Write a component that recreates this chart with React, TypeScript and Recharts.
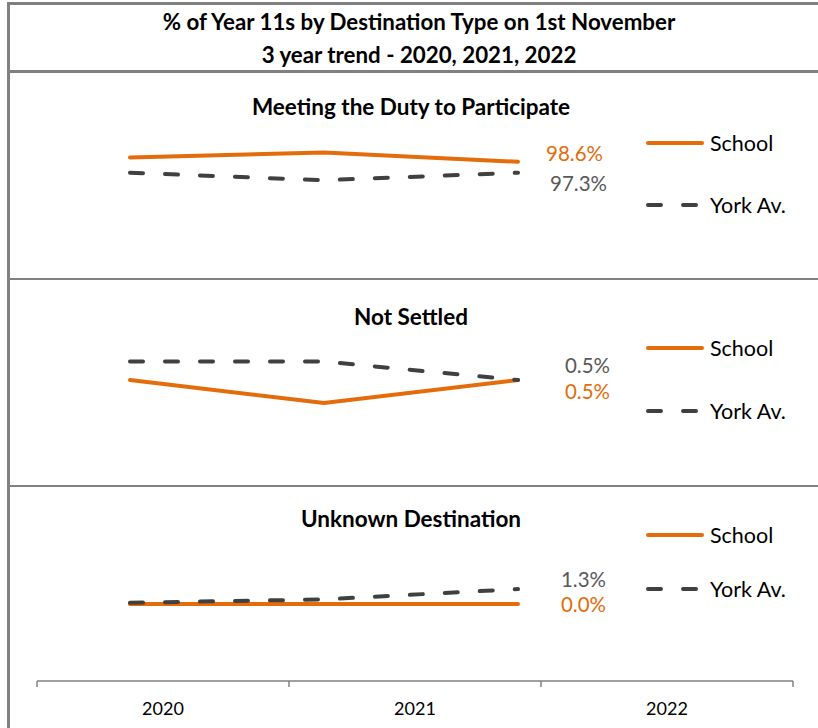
import React from "react";
import { LineChart, Line, XAxis, YAxis, Legend } from "recharts";

const YEARS = ["2020", "2021", "2022"];
const SERIES = ["School", "York Av."];

// Meeting the Duty to Participate (%)
const DUTY_SCHOOL = [99.1, 99.7, 98.6];
const DUTY_YORK = [97.3, 96.4, 97.3];
// Not Settled (%)
const NOT_SETTLED_SCHOOL = [0.5, 0.0, 0.5];
const NOT_SETTLED_YORK = [0.9, 0.9, 0.5];
// Unknown Destination (%)
const UNKNOWN_SCHOOL = [0.0, 0.0, 0.0];
const UNKNOWN_YORK = [0.1, 0.4, 1.3];

const MAIN_TITLE = [
  "% of Year 11s by Destination Type on 1st November",
  "3 year trend - 2020, 2021, 2022",
];
const PANEL_TITLES = [
  "Meeting the Duty to Participate",
  "Not Settled",
  "Unknown Destination",
];

const ORANGE = "#E46C0A";
const DARK = "#404040";
const LABEL_GREY = "#595959";
const BORDER = "#808080";
const FONT = "Lato, 'Open Sans', sans-serif";
const DASH = "13 22";

interface PanelProps {
  title: string;
  school: number[];
  york: number[];
  domain: [number, number];
  top: number;
  height: number;
  marginTop: number;
  marginBottom: number;
  titleY: number;
  legendTop: number;
  legendGap: number;
  schoolDx: number;
  schoolDy: number;
  yorkDx: number;
  yorkDy: number;
}

// value label shown only at the last year, right of the line end
function endLabel(color: string, dx: number, dy: number) {
  return (props: any) => {
    const { x, y, value, index } = props;
    if (index !== YEARS.length - 1) return null;
    return (
      <text
        x={x + dx}
        y={y + dy}
        fill={color}
        textAnchor="end"
        dominantBaseline="central"
        fontSize={20.5}
        fontFamily={FONT}
      >
        {`${Number(value).toFixed(1)}%`}
      </text>
    );
  };
}

function PanelLegend({ payload, gap }: { payload?: any[]; gap: number }) {
  if (!payload) return null;
  return (
    <svg width={180} height={gap + 30} style={{ display: "block" }}>
      {payload.map((entry, i) => {
        const dashed = entry.value === SERIES[1];
        return (
          <g key={entry.value} transform={`translate(0, ${15 + i * gap})`}>
            <line
              x1={10}
              x2={dashed ? 62 : 64}
              y1={0}
              y2={0}
              stroke={entry.color}
              strokeWidth={4}
              strokeLinecap="round"
              strokeDasharray={dashed ? DASH : undefined}
            />
            <text
              x={72}
              y={0}
              dominantBaseline="central"
              fontSize={21.5}
              fontFamily={FONT}
              fill="#000"
            >
              {entry.value}
            </text>
          </g>
        );
      })}
    </svg>
  );
}

function Panel(p: PanelProps) {
  const data = YEARS.map((year, i) => ({
    year,
    school: p.school[i],
    york: p.york[i],
  }));
  return (
    <>
      <div
        style={{
          position: "absolute",
          left: 0,
          width: 822,
          top: p.titleY - 14,
          lineHeight: "28px",
          textAlign: "center",
          fontFamily: FONT,
          fontWeight: 700,
          fontSize: 22.5,
          color: "#000",
        }}
      >
        {p.title}
      </div>
      <div style={{ position: "absolute", left: 0, top: p.top }}>
        <LineChart
          width={818}
          height={p.height}
          data={data}
          margin={{ top: p.marginTop, bottom: p.marginBottom, left: 130, right: 300 }}
        >
          <XAxis dataKey="year" hide />
          <YAxis hide domain={p.domain} type="number" />
          <Legend
            layout="horizontal"
            verticalAlign="middle"
            align="center"
            wrapperStyle={{ left: 638, top: p.legendTop, width: 180 }}
            content={(props: any) => <PanelLegend payload={props.payload} gap={p.legendGap} />}
          />
          <Line
            dataKey="school"
            name={SERIES[0]}
            stroke={ORANGE}
            strokeWidth={4}
            strokeLinecap="round"
            dot={false}
            isAnimationActive={false}
            label={endLabel(ORANGE, p.schoolDx, p.schoolDy)}
          />
          <Line
            dataKey="york"
            name={SERIES[1]}
            stroke={DARK}
            strokeWidth={4}
            strokeLinecap="round"
            strokeDasharray={DASH}
            dot={false}
            isAnimationActive={false}
            label={endLabel(LABEL_GREY, p.yorkDx, p.yorkDy)}
          />
        </LineChart>
      </div>
    </>
  );
}

function AxisTick(props: any) {
  const { x, y, payload } = props;
  const v = payload.value as number;
  if (Number.isInteger(v)) {
    return <line x1={x} x2={x} y1={y - 6} y2={y} stroke={BORDER} strokeWidth={1.5} />;
  }
  return (
    <text
      x={x}
      y={y + 21}
      textAnchor="middle"
      dominantBaseline="central"
      fontSize={18}
      fontFamily={FONT}
      fill="#000"
    >
      {YEARS[Math.floor(v)]}
    </text>
  );
}

function YearAxis() {
  const data = YEARS.map((year, i) => ({ year, pos: i + 0.5, v: 0 }));
  const ticks = [0, 0.5, 1, 1.5, 2, 2.5, 3];
  return (
    <div style={{ position: "absolute", left: 0, top: 640 }}>
      <LineChart width={818} height={88} data={data} margin={{ top: 10, bottom: 0, left: 37, right: 25 }}>
        <XAxis
          dataKey="pos"
          type="number"
          domain={[0, 3]}
          ticks={ticks}
          interval={0}
          height={47}
          tickLine={false}
          tickSize={6}
          tickMargin={0}
          axisLine={{ stroke: BORDER, strokeWidth: 1.5 }}
          tick={<AxisTick />}
        />
        <YAxis hide domain={[0, 1]} />
        <Line dataKey="v" stroke="none" dot={false} isAnimationActive={false} />
      </LineChart>
    </div>
  );
}

const hLine = (top: number, h: number): React.CSSProperties => ({
  position: "absolute",
  left: 7,
  right: 0,
  top,
  height: h,
  background: BORDER,
});

export default function App() {
  return (
    <div
      style={{
        position: "absolute",
        left: 0,
        top: 0,
        width: 818,
        height: 728,
        background: "#fff",
        overflow: "hidden",
      }}
    >
      {/* frame */}
      <div style={hLine(2, 3)} />
      <div style={hLine(70, 3)} />
      <div style={hLine(278, 2)} />
      <div style={hLine(485, 2)} />
      <div style={{ position: "absolute", left: 7, top: 2, width: 3, height: 726, background: BORDER }} />

      {MAIN_TITLE.map((t, i) => (
        <div
          key={t}
          style={{
            position: "absolute",
            left: 10,
            width: 818,
            top: (i === 0 ? 22 : 55) - 13,
            lineHeight: "26px",
            textAlign: "center",
            fontFamily: FONT,
            fontWeight: 700,
            fontSize: 22.3,
            color: "#000",
          }}
        >
          {t}
        </div>
      ))}

      <Panel
        title={PANEL_TITLES[0]}
        school={DUTY_SCHOOL}
        york={DUTY_YORK}
        domain={[95, 100]}
        top={72}
        height={206}
        marginTop={78}
        marginBottom={86}
        titleY={107}
        legendTop={56}
        legendGap={62}
        schoolDx={85}
        schoolDy={-9}
        yorkDx={89}
        yorkDy={10}
      />
      <Panel
        title={PANEL_TITLES[1]}
        school={NOT_SETTLED_SCHOOL}
        york={NOT_SETTLED_YORK}
        domain={[0, 1]}
        top={280}
        height={205}
        marginTop={77}
        marginBottom={82}
        titleY={317}
        legendTop={53}
        legendGap={63}
        schoolDx={92}
        schoolDy={11}
        yorkDx={92}
        yorkDy={-15}
      />
      <Panel
        title={PANEL_TITLES[2]}
        school={UNKNOWN_SCHOOL}
        york={UNKNOWN_YORK}
        domain={[0, 2]}
        top={487}
        height={150}
        marginTop={94}
        marginBottom={33}
        titleY={519}
        legendTop={33}
        legendGap={54}
        schoolDx={88}
        schoolDy={0}
        yorkDx={88}
        yorkDy={-10}
      />
      <YearAxis />
    </div>
  );
}
